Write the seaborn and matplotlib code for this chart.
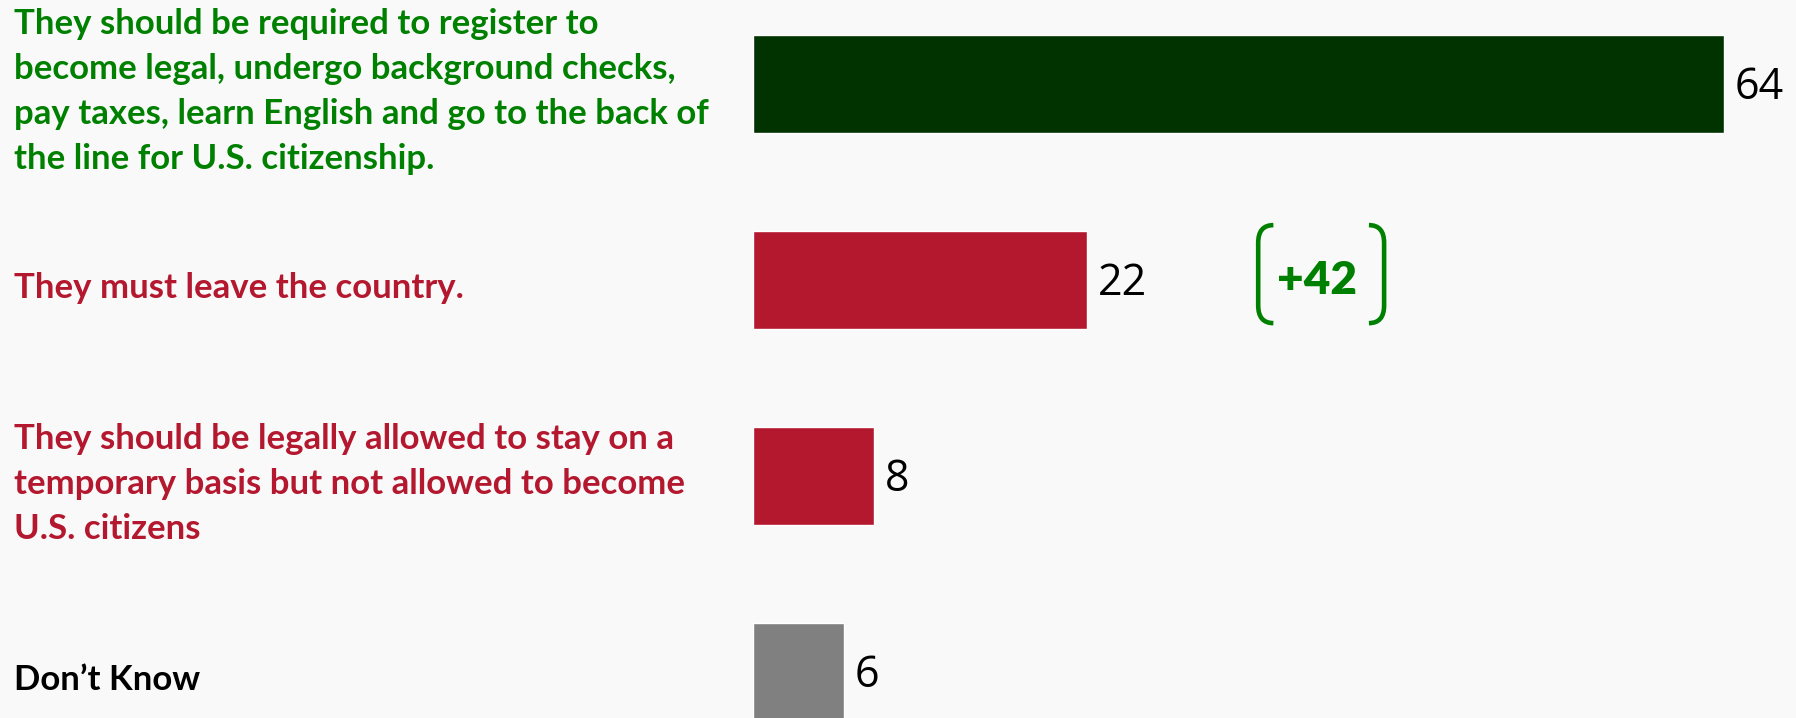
import matplotlib
matplotlib.use("Agg")
import matplotlib.pyplot as plt
import seaborn as sns
import pandas as pd
from matplotlib.path import Path
from matplotlib.patches import PathPatch

categories = [
    "They should be required to register to\nbecome legal, undergo background checks,\npay taxes, learn English and go to the back of\nthe line for U.S. citizenship.",
    "They must leave the country.",
    "They should be legally allowed to stay on a\ntemporary basis but not allowed to become\nU.S. citizens",
    "Don\u2019t Know",
]
values = [64, 22, 8, 6]
bar_colors = ["#003300", "#B3182F", "#B3182F", "#808080"]
label_colors = ["#008000", "#B3182F", "#B3182F", "#000000"]
diff_label = "+42"

BG = "#F9F9F9"
sns.set_theme(style="white")
plt.rcParams["font.family"] = ["Lato", "DejaVu Sans"]

df = pd.DataFrame({"cat": categories, "val": values})

fig = plt.figure(figsize=(17.96, 7.18), dpi=100, facecolor=BG)
ax = fig.add_axes([753 / 1796, 0, 1 - 753 / 1796, 1])
ax.set_facecolor(BG)

sns.barplot(data=df, y="cat", x="val", hue="cat", palette=bar_colors,
            order=categories, hue_order=categories, legend=False,
            width=0.5, saturation=1, ax=ax, orient="h")

ax.set_xlim(0, 68.75)
ax.set_ylim(3.2347, -0.4286)
ax.set_xlabel("")
ax.set_ylabel("")
ax.set_xticks([])
ax.set_yticks([])
for s in ax.spines.values():
    s.set_visible(False)

# value labels
for i, v in enumerate(values):
    ax.text(v + 0.7, i + 0.02, str(v), va="center", ha="left",
            fontsize=31, color="black", family=["Open Sans", "DejaVu Sans"])

# category labels
for i, (c, col) in enumerate(zip(categories, label_colors)):
    ax.annotate(c, xy=(0, i), xycoords=("figure fraction", "data"),
                xytext=(14 / 1796, i + 0.04), textcoords=("figure fraction", "data"),
                va="center", ha="left", fontsize=25, fontweight="bold",
                color=col, linespacing=1.5)

# +42 with brackets
green = "#008000"
ax.text(37.2, 1.0, diff_label, ha="center", va="center", fontsize=33,
        fontweight="heavy", color=green)
yt, yb = 0.72, 1.22
def bracket(x_edge, x_tip):
    verts = [(x_tip, yt), (x_edge, yt), (x_edge, yt + 0.09),
             (x_edge, yb - 0.09), (x_edge, yb), (x_tip, yb)]
    codes = [Path.MOVETO, Path.CURVE3, Path.CURVE3,
             Path.LINETO, Path.CURVE3, Path.CURVE3]
    ax.add_patch(PathPatch(Path(verts, codes), fill=False, edgecolor=green,
                           lw=3.3, capstyle="butt"))
bracket(33.3, 34.3)
bracket(41.6, 40.6)

fig.savefig("out.png", dpi=100, facecolor=BG)
